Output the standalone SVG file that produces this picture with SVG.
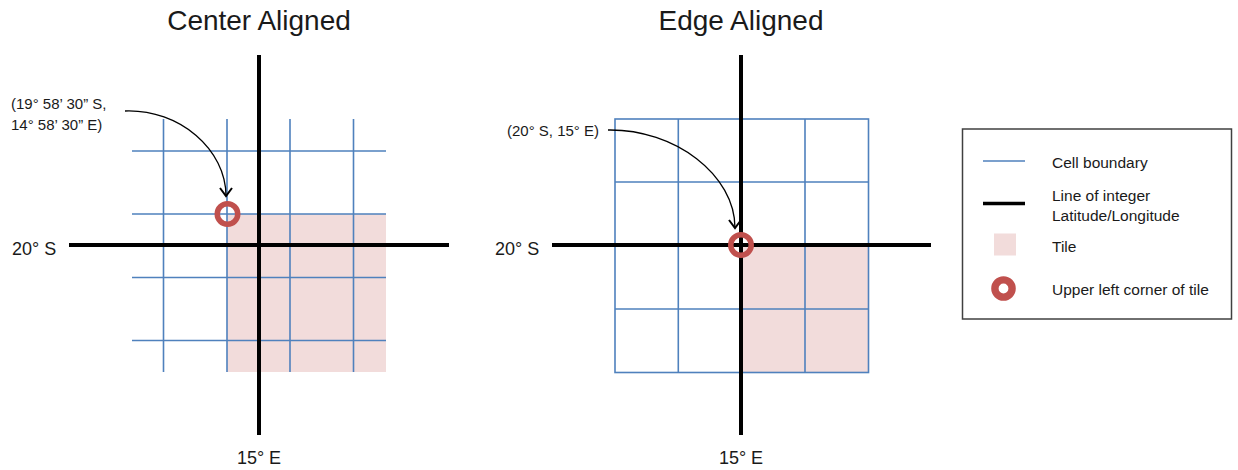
<svg xmlns="http://www.w3.org/2000/svg" width="1238" height="470" viewBox="0 0 1238 470">
<style>
text{font-family:"Liberation Sans",Arial,sans-serif;fill:#1a1a1a}
.title{font-size:28px;text-anchor:middle}
.axis{font-size:18px}
.note{font-size:15px}
.leg{font-size:15.5px}
.cell{stroke:#4F81BD;stroke-width:1.6;fill:none}
.int{stroke:#000;stroke-width:4;fill:none}
.tile{fill:#F2DCDB}
.corner{fill:none;stroke:#C0504D;stroke-width:5.5}
.conn{fill:none;stroke:#000;stroke-width:1.3}
</style>
<defs>
<marker id="chev" markerUnits="userSpaceOnUse" markerWidth="16" markerHeight="16" refX="9" refY="7" orient="auto">
<path d="M1,1 L9,7 L1,13" fill="none" stroke="#000" stroke-width="2"/>
</marker>
</defs>
<g id="center-aligned">
<text class="title" x="259" y="30">Center Aligned</text>
<rect class="tile" x="227" y="214" width="159" height="158"/>
<g class="cell">
<path d="M163.5,119V372M227,119V372M290,119V372M353.5,119V372"/>
<path d="M132,151H386M132,214H386M132,277.5H386M132,340.5H386"/>
</g>
<path class="int" d="M259,55V435M69,245H449"/>
<circle class="corner" cx="227.5" cy="214" r="10.25"/>
<text class="axis" x="12" y="255">20° S</text>
<text class="axis" x="259" y="464" text-anchor="middle">15° E</text>
<text class="note" x="11" y="109">(19° 58’ 30” S,</text>
<text class="note" x="11" y="130">14° 58’ 30” E)</text>
</g>
<g id="edge-aligned">
<text class="title" x="741" y="30">Edge Aligned</text>
<rect class="tile" x="741" y="245" width="127.5" height="127.5"/>
<g class="cell">
<rect x="615" y="119" width="253.5" height="253.5"/>
<path d="M678.3,119V372.5M805,119V372.5M615,182H868.5M615,309H868.5"/>
</g>
<path class="int" d="M741,55V435M552,245H931"/>
<circle class="corner" cx="741" cy="245" r="10.25"/>
<text class="axis" x="495" y="255">20° S</text>
<text class="axis" x="741" y="464" text-anchor="middle">15° E</text>
<text class="note" x="507" y="136">(20° S, 15° E)</text>
</g>
<g id="legend">
<rect x="962.5" y="129" width="269" height="190" fill="#fff" stroke="#404040" stroke-width="1.5"/>
<line x1="983" y1="161" x2="1025" y2="161" stroke="#4F81BD" stroke-width="1.6"/>
<line x1="983" y1="203.5" x2="1025" y2="203.5" stroke="#000" stroke-width="3.5"/>
<rect class="tile" x="994" y="233.5" width="22" height="22"/>
<circle cx="1003.5" cy="288.5" r="8.6" fill="none" stroke="#C0504D" stroke-width="7.4"/>
<text class="leg" x="1052" y="168">Cell boundary</text>
<text class="leg" x="1052" y="201">Line of integer</text>
<text class="leg" x="1052" y="221">Latitude/Longitude</text>
<text class="leg" x="1052" y="252">Tile</text>
<text class="leg" x="1052" y="295">Upper left corner of tile</text>
</g>
<g id="connectors">
<path class="conn" d="M125,111 C180,109 226,150 226,196" marker-end="url(#chev)"/>
<path class="conn" d="M608,130 C675,129 735,175 735,228" marker-end="url(#chev)"/>
</g>
</svg>
